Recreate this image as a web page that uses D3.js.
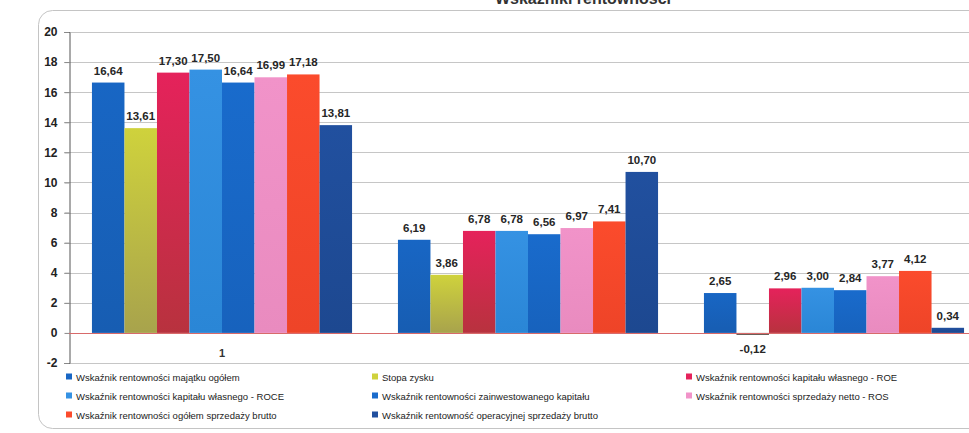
<!DOCTYPE html>
<html>
<head>
<meta charset="utf-8">
<script src="https://cdn.jsdelivr.net/npm/d3@7/dist/d3.min.js"></script>
<style>
  html, body { margin: 0; padding: 0; background: #fff; }
  svg { display: block; }
</style>
</head>
<body>
<svg id="chart" width="969" height="433"></svg>
<script>
// Groups on the category axis and their labels
const categories = ["1", "2", "3"];
const categoryLabels = ["1", "", ""];

// Indicator names (series)
const seriesNames = [
  "Wskaźnik rentowności majątku ogółem",
  "Stopa zysku",
  "Wskaźnik rentowności kapitału własnego - ROE",
  "Wskaźnik rentowności kapitału własnego - ROCE",
  "Wskaźnik rentowności zainwestowanego kapitału",
  "Wskaźnik rentowności sprzedaży netto - ROS",
  "Wskaźnik rentowności ogółem sprzedaży brutto",
  "Wskaźnik rentowność operacyjnej sprzedaży brutto"
];

// Values per series, one per group
const majatek     = [16.64, 6.19, 2.65];
const stopaZysku  = [13.61, 3.86, -0.12];
const roe         = [17.30, 6.78, 2.96];
const roce        = [17.50, 6.78, 3.00];
const zainwest    = [16.64, 6.56, 2.84];
const ros         = [16.99, 6.97, 3.77];
const brutto      = [17.18, 7.41, 4.12];
const operacyjna  = [13.81, 10.70, 0.34];
const seriesValues = [majatek, stopaZysku, roe, roce, zainwest, ros, brutto, operacyjna];

// Y axis ticks
const yTicks = [-2, 0, 2, 4, 6, 8, 10, 12, 14, 16, 18, 20];

// Series fills (top / bottom of the gradient)
const topColors    = ["#1866c4", "#cfd23c", "#e5225b", "#3592e3", "#196bcc", "#f193c9", "#fb4b2c", "#21509f"];
const bottomColors = ["#175db2", "#a8a34c", "#b8323e", "#2a86d6", "#1762bd", "#e98bbf", "#ee4428", "#1d4890"];
const negativeColor = "#5e5049";

const svg = d3.select("#chart");
const defs = svg.append("defs");
seriesNames.forEach((s, i) => {
  const g = defs.append("linearGradient")
    .attr("id", "grad" + i).attr("x1", 0).attr("y1", 0).attr("x2", 0).attr("y2", 1);
  g.append("stop").attr("offset", "0%").attr("stop-color", topColors[i]);
  g.append("stop").attr("offset", "100%").attr("stop-color", bottomColors[i]);
});

// Outer chart frame
svg.append("rect")
  .attr("x", 38.5).attr("y", 10.5).attr("width", 960).attr("height", 418)
  .attr("rx", 14).attr("fill", "none").attr("stroke", "#c4c4c4").attr("stroke-width", 1);

// Title, sitting on the top edge of the frame
svg.append("text")
  .attr("x", 583).attr("y", 4)
  .attr("text-anchor", "middle")
  .attr("font-family", "Liberation Sans, Arial, sans-serif")
  .attr("font-weight", "bold").attr("font-size", 16)
  .attr("fill", "#333")
  .text("Wskaźniki rentowności");

const plotLeft = 69, plotRight = 987, plotTop = 32, plotBottom = 363;

const x0 = d3.scaleBand().domain(categories).range([plotLeft, plotRight])
  .paddingInner(0.15).paddingOuter(0.075);
const x1 = d3.scaleBand().domain(d3.range(seriesNames.length)).range([0, x0.bandwidth()]);
const y = d3.scaleLinear().domain([-2, 20]).range([plotBottom, plotTop]);

// Gridlines
svg.append("g").selectAll("line").data(yTicks.filter(t => t !== 0)).join("line")
  .attr("x1", plotLeft - 5).attr("x2", plotRight)
  .attr("y1", d => Math.round(y(d)) + 0.5).attr("y2", d => Math.round(y(d)) + 0.5)
  .attr("stroke", "#c6c6c6").attr("stroke-width", 1);

// Y axis
const yAxis = d3.axisLeft(y).tickValues(yTicks).tickSize(5).tickPadding(7).tickFormat(d => String(d));
const yg = svg.append("g").attr("transform", `translate(${plotLeft + 0.5},0)`).call(yAxis);
yg.select(".domain").attr("stroke", "#555");
yg.selectAll(".tick line").attr("stroke", "#888");
yg.selectAll(".tick text")
  .attr("font-family", "Liberation Sans, Arial, sans-serif")
  .attr("font-weight", "bold").attr("font-size", 12).attr("fill", "#222");

// Bars
const rows = [];
categories.forEach((c, gi) => {
  seriesValues.forEach((vals, si) => rows.push({ c, gi, si, v: vals[gi] }));
});

const bars = svg.append("g");
bars.selectAll("rect").data(rows).join("rect")
  .attr("x", d => x0(d.c) + x1(d.si))
  .attr("width", x1.bandwidth())
  .attr("y", d => y(Math.max(0, d.v)))
  .attr("height", d => Math.max(2, Math.abs(y(d.v) - y(0))))
  .attr("fill", d => d.v < 0 ? negativeColor : `url(#grad${d.si})`);

// Zero line
svg.append("line")
  .attr("x1", plotLeft).attr("x2", plotRight)
  .attr("y1", Math.round(y(0)) + 0.5).attr("y2", Math.round(y(0)) + 0.5)
  .attr("stroke", "#d86a6a").attr("stroke-width", 1.2);

// Data labels
const fmt = v => v.toFixed(2).replace(".", ",");
svg.append("g").selectAll("text").data(rows).join("text")
  .attr("x", d => x0(d.c) + x1(d.si) + x1.bandwidth() / 2)
  .attr("y", d => d.v < 0 ? y(d.v) + 18 : y(d.v) - 8)
  .attr("text-anchor", "middle")
  .attr("font-family", "Liberation Sans, Arial, sans-serif")
  .attr("font-weight", "bold").attr("font-size", 11.5)
  .attr("fill", "#262626")
  .text(d => fmt(d.v));

// Category labels
svg.append("g").selectAll("text").data(categories).join("text")
  .attr("x", d => x0(d) + x0.bandwidth() / 2)
  .attr("y", 357)
  .attr("text-anchor", "middle")
  .attr("font-family", "Liberation Sans, Arial, sans-serif")
  .attr("font-weight", "bold").attr("font-size", 11)
  .attr("fill", "#333")
  .text((d, i) => categoryLabels[i]);

// Legend: three columns, row-major order
const legendCols = [66, 372, 686];
const legendRows = [377, 396, 415];
const legend = svg.append("g").selectAll("g").data(seriesNames).join("g")
  .attr("transform", (d, i) => `translate(${legendCols[i % 3]},${legendRows[Math.floor(i / 3)]})`);
legend.append("rect")
  .attr("x", 0).attr("y", -3.5).attr("width", 6).attr("height", 6)
  .attr("fill", (d, i) => topColors[i]);
legend.append("text")
  .attr("x", 10).attr("y", 3.5)
  .attr("font-family", "Liberation Sans, Arial, sans-serif")
  .attr("font-size", 9.5)
  .attr("fill", "#222")
  .text(d => d);
</script>
</body>
</html>
